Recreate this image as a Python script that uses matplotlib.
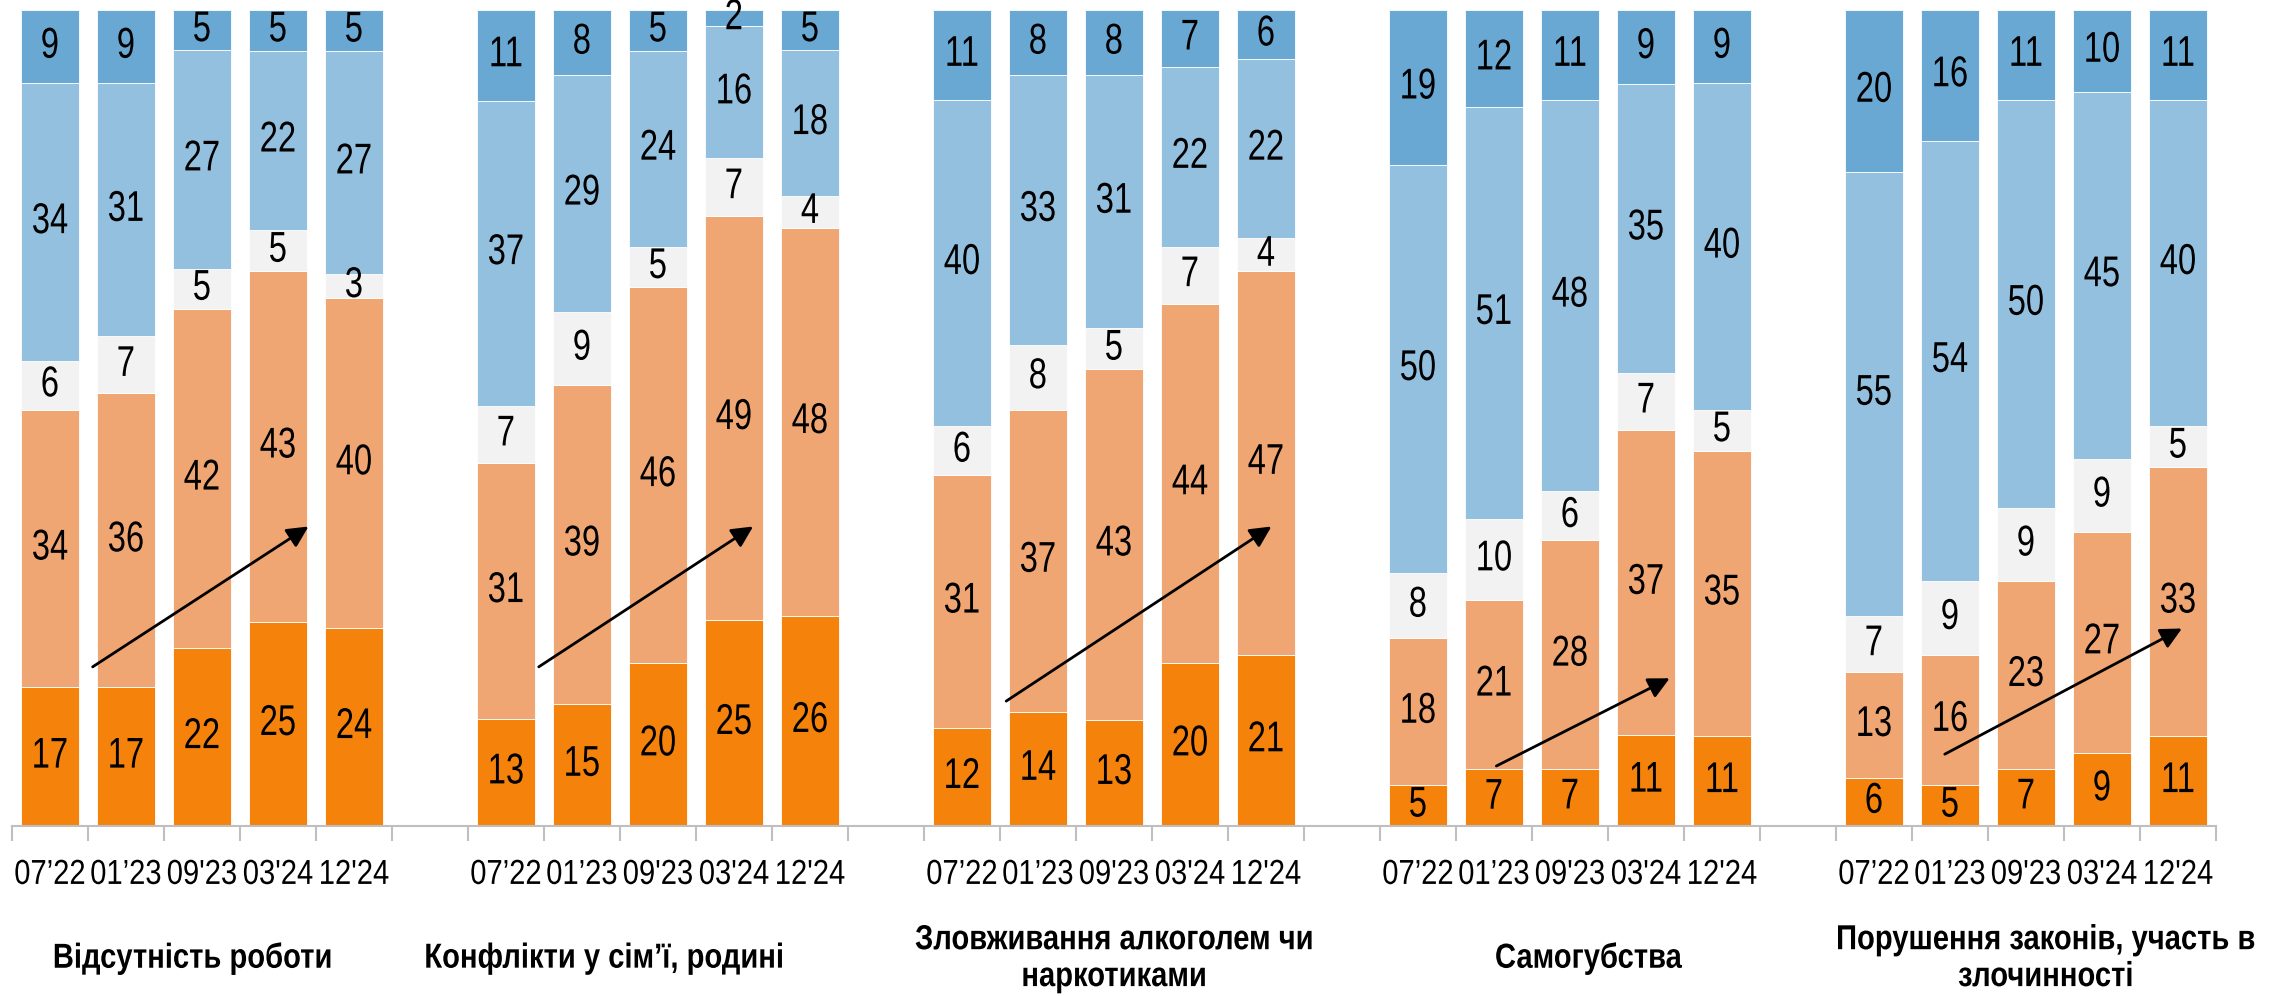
#!/usr/bin/env python3
#
# stacked bars of problem assessments by wave, five topics
#
import numpy as np
import matplotlib
matplotlib.use('Agg')
import matplotlib.pyplot as plt
from matplotlib.transforms import blended_transform_factory, Affine2D
from matplotlib.patheffects import AbstractPathEffect

# data -------------------------------------------------------------------------
topics = ['Відсутність роботи', 'Конфлікти у сім’ї, родині',
          'Зловживання алкоголем чи\nнаркотиками', 'Самогубства',
          'Порушення законів, участь в\nзлочинності']
waves = ['07’22', '01’23', "09'23", "03'24", "12'24"]

# bottom to top, 5 waves per topic
s_dark_orange = [17, 17, 22, 25, 24,  13, 15, 20, 25, 26,  12, 14, 13, 20, 21,
                 5, 7, 7, 11, 11,  6, 5, 7, 9, 11]
s_light_orange = [34, 36, 42, 43, 40,  31, 39, 46, 49, 48,  31, 37, 43, 44, 47,
                  18, 21, 28, 37, 35,  13, 16, 23, 27, 33]
s_gray = [6, 7, 5, 5, 3,  7, 9, 5, 7, 4,  6, 8, 5, 7, 4,
          8, 10, 6, 7, 5,  7, 9, 9, 9, 5]
s_light_blue = [34, 31, 27, 22, 27,  37, 29, 24, 16, 18,  40, 33, 31, 22, 22,
                50, 51, 48, 35, 40,  55, 54, 50, 45, 40]
s_mid_blue = [9, 9, 5, 5, 5,  11, 8, 5, 2, 5,  11, 8, 8, 7, 6,
              19, 12, 11, 9, 9,  20, 16, 11, 10, 11]

# trend arrows (start x, start y, end x, end y) in slot / percent units
arrows = [(0.56, 19.5, 3.40, 36.7), (6.43, 19.5, 9.25, 36.7),
          (12.58, 15.3, 16.07, 36.7), (19.03, 7.35, 21.31, 18.1),
          (24.93, 8.8, 28.05, 24.2)]

# style ------------------------------------------------------------------------
colors = ['#F5820B', '#F0A672', '#F2F2F2', '#93C0DF', '#68A8D3']
font = ['Liberation Sans', 'DejaVu Sans']
title_x = [1.88, 7.29, 14.0, 20.24, 26.26]

# squeeze text horizontally (no narrow font installed) -------------------------
class Narrow(AbstractPathEffect):
    def __init__(self, sx):
        super().__init__()
        self.sx = sx
    def draw_path(self, renderer, gc, tpath, affine, rgbFace=None):
        v = affine.transform(tpath.vertices)
        if len(v) == 0:
            return
        cx = (v[:, 0].min() + v[:, 0].max()) / 2
        a = affine + Affine2D().translate(-cx, 0).scale(self.sx, 1).translate(cx, 0)
        renderer.draw_path(gc, tpath, a, rgbFace)

# main -------------------------------------------------------------------------
def main():
    fig = plt.figure(figsize=(22.79, 9.96), dpi=100)
    ax = fig.add_axes((0.0053, 0.1707, 0.9671, 0.8193))

    n = len(waves)
    x = np.array([g * (n + 1) + i for g in range(len(topics)) for i in range(n)])
    series = [s_dark_orange, s_light_orange, s_gray, s_light_blue, s_mid_blue]
    total = np.sum(np.array(series, dtype=float), axis=0)
    bottom = np.zeros(len(x))
    for vals, col in zip(series, colors):
        v = np.array(vals, dtype=float)
        h = v / total * 100  # rounded shares do not always add up to 100
        ax.bar(x, h, 0.77, bottom=bottom, color=col, edgecolor='white', lw=0.6)
        for xi, b, hi, vi in zip(x, bottom, h, v):
            ax.text(xi, b + hi / 2, '%d' % vi, ha='center', va='center',
                    fontsize=31, family=font, color='black',
                    path_effects=[Narrow(0.76)])
        bottom += h

    for x0, y0, x1, y1 in arrows:
        ax.annotate('', xy=(x1, y1), xytext=(x0, y0),
                    arrowprops=dict(arrowstyle='-|>', color='black', lw=2,
                                    mutation_scale=32, shrinkA=0, shrinkB=0))

    ntot = len(topics) * (n + 1) - 1
    ax.set_xlim(-0.5, ntot - 0.5)
    ax.set_ylim(0, 100)
    ax.set_xticks(x)
    ax.set_xticklabels(waves * len(topics), fontsize=25, family=font)
    for t in ax.get_xticklabels():
        t.set_path_effects([Narrow(0.84)])
    ax.set_xticks(np.arange(-0.5, ntot, 1.0), minor=True)
    ax.tick_params(axis='x', which='major', length=0, pad=23)
    ax.tick_params(axis='x', which='minor', length=11, width=1.5,
                   color='#BFBFBF', direction='out')
    ax.set_yticks([])
    for s in ['top', 'left', 'right']:
        ax.spines[s].set_visible(False)
    ax.spines['bottom'].set_color('#BFBFBF')
    ax.spines['bottom'].set_linewidth(1.5)

    tr = blended_transform_factory(ax.transData, fig.transFigure)
    for tx, t in zip(title_x, topics):
        ax.text(tx, 0.038, t, transform=tr, ha='center', va='center',
                multialignment='center', fontsize=25, fontweight='bold',
                family=font, linespacing=1.15, path_effects=[Narrow(0.84)])

    fig.savefig('out.png', dpi=100)

if __name__ == '__main__':
    main()
